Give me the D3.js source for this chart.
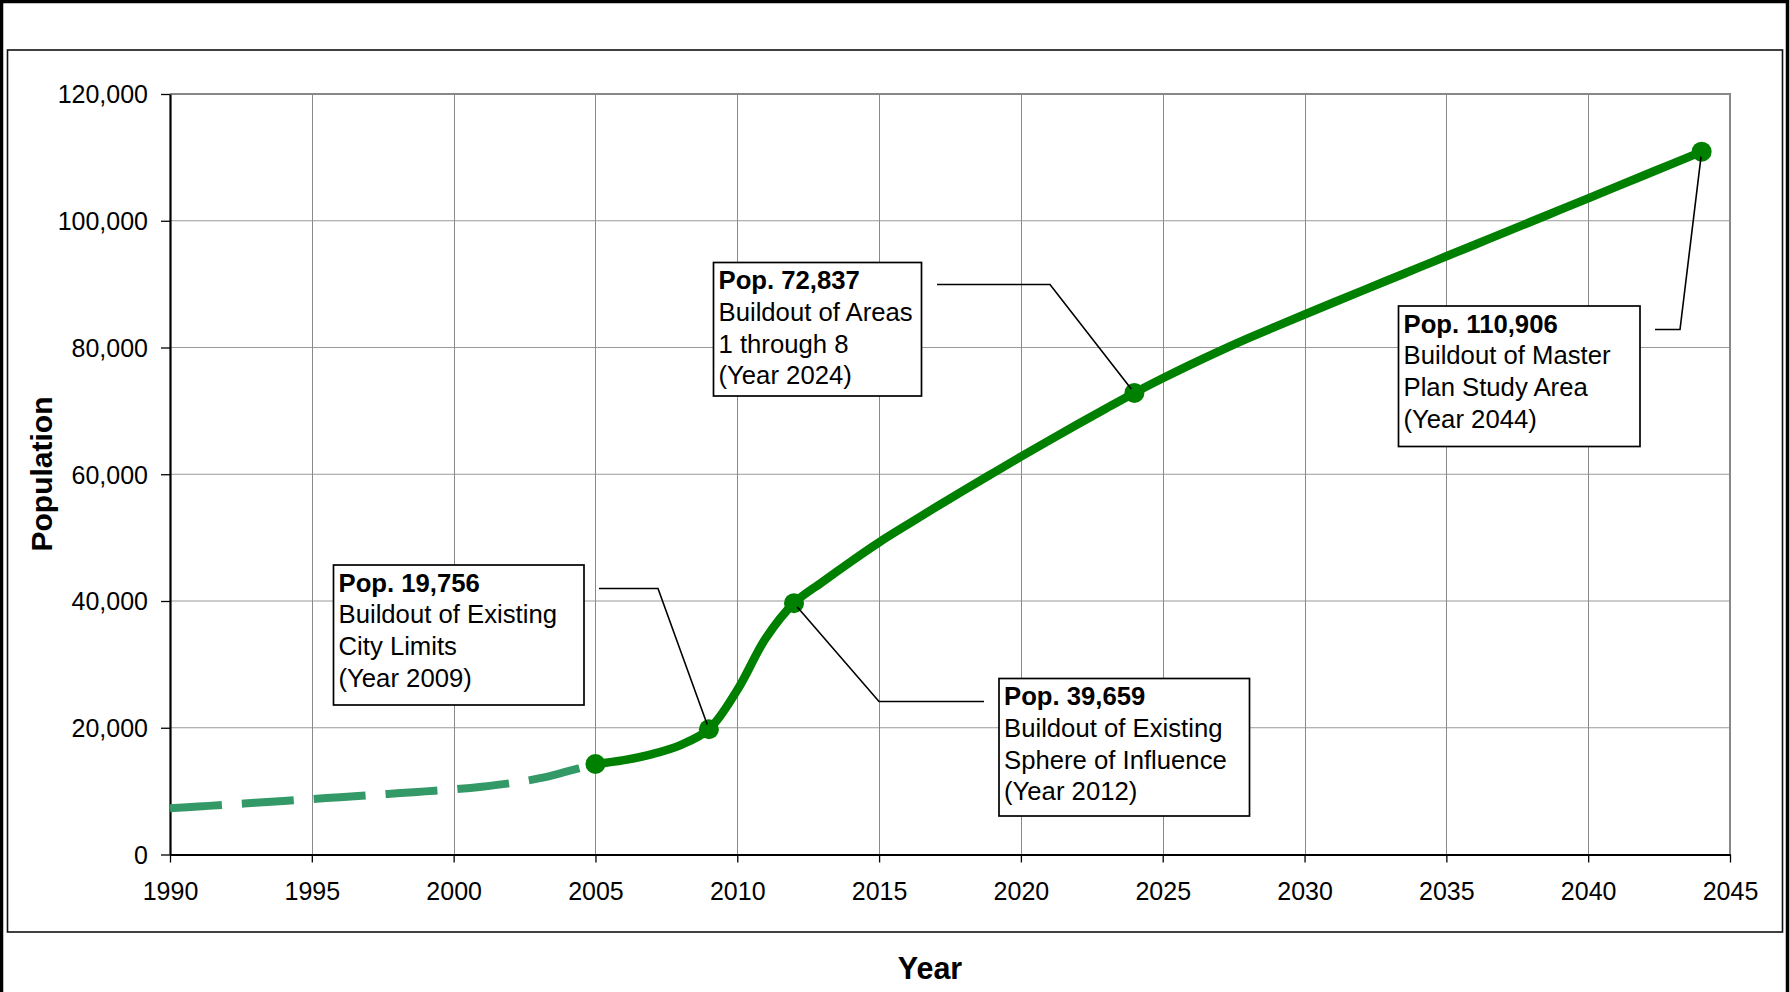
<!DOCTYPE html>
<html>
<head>
<meta charset="utf-8">
<script src="https://cdn.jsdelivr.net/npm/d3@7"></script>
<style>
  html, body { margin: 0; padding: 0; background: #fff; }
  svg { display: block; font-family: "Liberation Sans", Arial, sans-serif; }
</style>
</head>
<body>
<svg id="chart" width="1790" height="992"></svg>
<script>
// Historical population (dashed) and projected buildout population (solid)
const histYears = [1990, 1991, 1992, 1993, 1994, 1995, 1996, 1997, 1998, 1999, 2000, 2001, 2002, 2003, 2004, 2005];
const histPop   = [7290, 7570, 7860, 8150, 8450, 8750, 9050, 9350, 9650, 9960, 10280, 10700, 11250, 12000, 13100, 14275];

const projYears = [2005, 2006, 2007, 2008, 2009, 2010, 2011, 2012, 2013, 2014, 2015, 2016, 2017, 2018, 2019,
                   2020, 2021, 2022, 2023, 2024, 2025, 2026, 2027, 2028, 2029, 2030, 2031, 2032, 2033, 2034,
                   2035, 2036, 2037, 2038, 2039, 2040, 2041, 2042, 2043, 2044];
const projPop   = [14275, 14900, 15850, 17270, 19756, 25950, 34100, 39659, 43000, 46200, 49250, 52050, 54800, 57500, 60150,
                   62780, 65350, 67880, 70380, 72837, 75140, 77340, 79440, 81440, 83340, 85210, 87060, 88900, 90730, 92560,
                   94390, 96220, 98050, 99880, 101710, 103540, 105380, 107220, 109060, 110906];

// Milestone markers on the projection
const markerYears = [2005, 2009, 2012, 2024, 2044];

// Callout labels
const noteYears = [2009, 2024, 2044, 2012];
const noteTitles = ["Pop. 19,756", "Pop. 72,837", "Pop. 110,906", "Pop. 39,659"];
const noteLines = [
  ["Buildout of Existing", "City Limits", "(Year 2009)"],
  ["Buildout of Areas", "1 through 8", "(Year 2024)"],
  ["Buildout of Master", "Plan Study Area", "(Year 2044)"],
  ["Buildout of Existing", "Sphere of Influence", "(Year 2012)"]
];

// Axis ticks
const xTicks = [1990, 1995, 2000, 2005, 2010, 2015, 2020, 2025, 2030, 2035, 2040, 2045];
const yTicks = [0, 20000, 40000, 60000, 80000, 100000, 120000];

// ---- layout ----
const plot = { left: 170, right: 1730, top: 94, bottom: 854.5 };
// callout box rectangles [x, y, w, h] and leader start / elbow points
const noteBoxes = [
  { box: [333.5, 565, 250.5, 140], start: [599, 588.5], elbow: [658, 588.5] },
  { box: [713.5, 262.5, 208, 133.5], start: [937, 284.5], elbow: [1050, 284.5] },
  { box: [1398.5, 306, 241.5, 140.5], start: [1655, 329.5], elbow: [1680, 329.5] },
  { box: [999, 678.5, 250.5, 137.5], start: [984, 701.5], elbow: [879, 701.5] }
];

const svg = d3.select("#chart");

const x = d3.scaleLinear().domain([1990, 2045]).range([plot.left, plot.right]);
const y = d3.scaleLinear().domain([0, 120000]).range([plot.bottom, plot.top]);

// outer and inner frames
svg.append("rect").attr("x", 1.5).attr("y", 1.5).attr("width", 1786).attr("height", 1200)
  .attr("fill", "none").attr("stroke", "#000").attr("stroke-width", 3.5);
svg.append("rect").attr("x", 7.5).attr("y", 50).attr("width", 1775).attr("height", 882)
  .attr("fill", "#fff").attr("stroke", "#111").attr("stroke-width", 1.6);

// gridlines
const grid = svg.append("g");
grid.selectAll(".hg").data(yTicks.filter(d => d > 0 && d < 120000)).join("line")
  .attr("x1", plot.left).attr("x2", plot.right)
  .attr("y1", d => y(d)).attr("y2", d => y(d))
  .attr("stroke", "#9a9a9a").attr("stroke-width", 1.2);
grid.selectAll(".vg").data(xTicks.filter(d => d > 1990 && d < 2045)).join("line")
  .attr("x1", d => Math.round(x(d)) + 0.5).attr("x2", d => Math.round(x(d)) + 0.5)
  .attr("y1", plot.top).attr("y2", plot.bottom)
  .attr("stroke", "#8a8a8a").attr("stroke-width", 1);
// top and right border of plot area
grid.append("path")
  .attr("d", `M${plot.left},${y(120000)}H${x(2045)}V${plot.bottom}`)
  .attr("fill", "none").attr("stroke", "#888").attr("stroke-width", 2);

// axes
const xAxis = svg.append("g").attr("transform", `translate(0,${plot.bottom})`)
  .call(d3.axisBottom(x).tickValues(xTicks).tickFormat(d3.format("d")).tickSize(8).tickSizeOuter(0));
const yAxis = svg.append("g").attr("transform", `translate(${plot.left},0)`)
  .call(d3.axisLeft(y).tickValues(yTicks).tickFormat(d3.format(",")).tickSize(9).tickSizeOuter(0));

[xAxis, yAxis].forEach(g => {
  g.select(".domain").attr("stroke", "#000").attr("stroke-width", 2.2);
  g.selectAll(".tick line").attr("stroke", "#000").attr("stroke-width", 1.3);
  g.selectAll(".tick text").attr("fill", "#000")
    .style("font-family", '"Liberation Sans", Arial, sans-serif').style("font-size", "25px");
});
xAxis.selectAll(".tick text").attr("y", 0).attr("dy", 0).attr("transform", "translate(0,45.5)");
yAxis.selectAll(".tick text").attr("x", -22).attr("dy", 0).attr("transform", "translate(0,8.8)");

// axis titles
svg.append("text").attr("x", 930).attr("y", 979).attr("text-anchor", "middle")
  .style("font-size", "30.5px").style("font-weight", "bold").text("Year");
svg.append("text").attr("transform", "translate(52,474) rotate(-90)").attr("text-anchor", "middle")
  .style("font-size", "30px").style("font-weight", "bold").text("Population");

// series
const line = d3.line().x(d => x(d[0])).y(d => y(d[1])).curve(d3.curveCatmullRom.alpha(0.5));

svg.append("path")
  .datum(histYears.map((d, i) => [d, histPop[i]]))
  .attr("d", line).attr("fill", "none")
  .attr("stroke", "#339966").attr("stroke-width", 8)
  .attr("stroke-dasharray", "52,20");

svg.append("path")
  .datum(projYears.map((d, i) => [d, projPop[i]]))
  .attr("d", line).attr("fill", "none")
  .attr("stroke", "#008000").attr("stroke-width", 8.5).attr("stroke-linejoin", "round");

const popOf = yr => projPop[projYears.indexOf(yr)];
svg.selectAll(".marker").data(markerYears).join("circle")
  .attr("cx", d => x(d)).attr("cy", d => y(popOf(d))).attr("r", 10)
  .attr("fill", "#008000");

// callouts
noteYears.forEach((yr, i) => {
  const L = noteBoxes[i];
  const px = x(yr), py = y(popOf(yr));
  const ex = L.elbow[0], ey = L.elbow[1];
  const dx = px - ex, dy = py - ey, len = Math.hypot(dx, dy);
  const end = [px - dx / len * 5, py - dy / len * 5];
  svg.append("path")
    .attr("d", `M${L.start[0]},${L.start[1]}L${ex},${ey}L${end[0]},${end[1]}`)
    .attr("fill", "none").attr("stroke", "#000").attr("stroke-width", 1.6);

  const [bx, by, bw, bh] = L.box;
  svg.append("rect").attr("x", bx).attr("y", by).attr("width", bw).attr("height", bh)
    .attr("fill", "#fff").attr("stroke", "#000").attr("stroke-width", 1.7);
  const t = svg.append("text").attr("x", bx + 5).style("font-size", "25.7px");
  t.append("tspan").attr("x", bx + 5).attr("y", by + 26.5)
    .style("font-weight", "bold").text(noteTitles[i]);
  noteLines[i].forEach((s, k) => {
    t.append("tspan").attr("x", bx + 5).attr("y", by + 26.5 + 31.8 * (k + 1)).text(s);
  });
});
</script>
</body>
</html>
